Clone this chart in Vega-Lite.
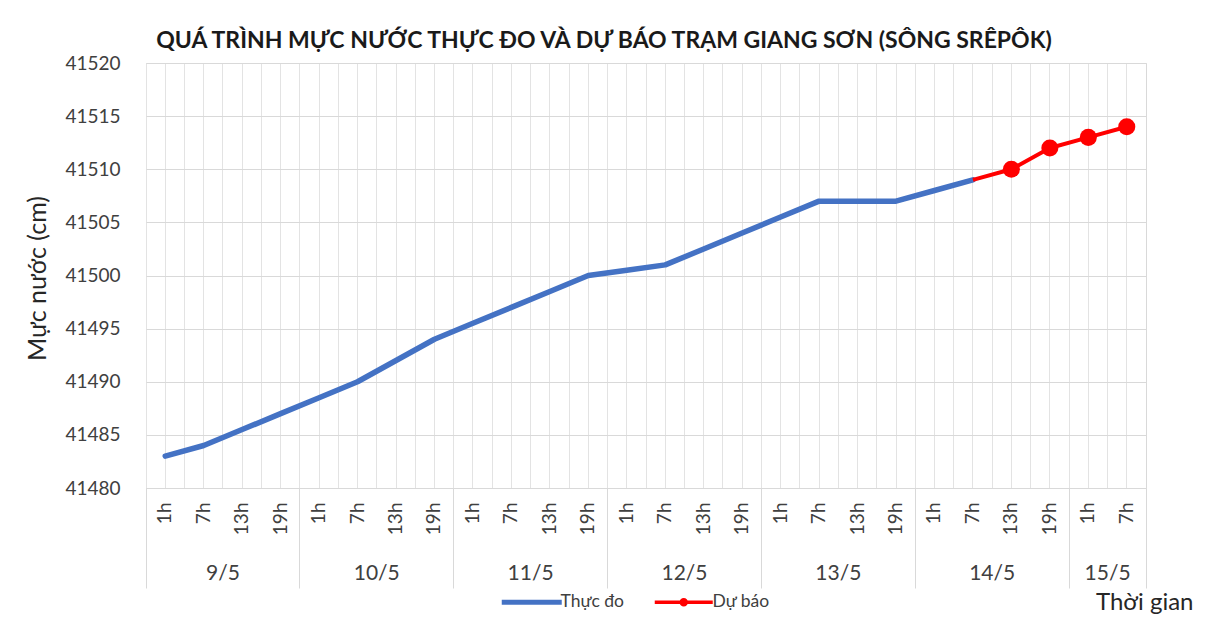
{
  "$schema": "https://vega.github.io/schema/vega-lite/v6.json",
  "autosize": {"type": "none"},
  "padding": {"left": 146, "top": 63, "right": 69, "bottom": 133},
  "width": 1000,
  "height": 425,
  "background": "white",
  "config": {
    "font": "Lato",
    "view": {"stroke": "#d9d9d9", "strokeWidth": 1},
    "axis": {"labelColor": "#404040", "titleColor": "#262626", "labelFont": "Lato", "titleFont": "Lato"}
  },
  "title": {
    "text": "QUÁ TRÌNH MỰC NƯỚC THỰC ĐO VÀ DỰ BÁO TRẠM GIANG SƠN (SÔNG SRÊPÔK)",
    "anchor": "middle",
    "dx": -42,
    "dy": 32,
    "offset": 15,
    "baseline": "alphabetic",
    "fontSize": 23,
    "fontWeight": "bold",
    "font": "Lato",
    "color": "#1a1a1a"
  },
  "data": {
    "values": [
      {"t": "9/5 1h", "value": 41483, "series": "Thực đo"},
      {"t": "9/5 7h", "value": 41484, "series": "Thực đo"},
      {"t": "9/5 13h", "value": 41485.5, "series": "Thực đo"},
      {"t": "9/5 19h", "value": 41487, "series": "Thực đo"},
      {"t": "10/5 1h", "value": 41488.5, "series": "Thực đo"},
      {"t": "10/5 7h", "value": 41490, "series": "Thực đo"},
      {"t": "10/5 13h", "value": 41492, "series": "Thực đo"},
      {"t": "10/5 19h", "value": 41494, "series": "Thực đo"},
      {"t": "11/5 1h", "value": 41495.5, "series": "Thực đo"},
      {"t": "11/5 7h", "value": 41497, "series": "Thực đo"},
      {"t": "11/5 13h", "value": 41498.5, "series": "Thực đo"},
      {"t": "11/5 19h", "value": 41500, "series": "Thực đo"},
      {"t": "12/5 1h", "value": 41500.5, "series": "Thực đo"},
      {"t": "12/5 7h", "value": 41501, "series": "Thực đo"},
      {"t": "12/5 13h", "value": 41502.5, "series": "Thực đo"},
      {"t": "12/5 19h", "value": 41504, "series": "Thực đo"},
      {"t": "13/5 1h", "value": 41505.5, "series": "Thực đo"},
      {"t": "13/5 7h", "value": 41507, "series": "Thực đo"},
      {"t": "13/5 13h", "value": 41507, "series": "Thực đo"},
      {"t": "13/5 19h", "value": 41507, "series": "Thực đo"},
      {"t": "14/5 1h", "value": 41508, "series": "Thực đo"},
      {"t": "14/5 7h", "value": 41509, "series": "Thực đo"},
      {"t": "14/5 7h", "value": 41509, "series": "Dự báo", "start": true},
      {"t": "14/5 13h", "value": 41510, "series": "Dự báo"},
      {"t": "14/5 19h", "value": 41512, "series": "Dự báo"},
      {"t": "15/5 1h", "value": 41513, "series": "Dự báo"},
      {"t": "15/5 7h", "value": 41514, "series": "Dự báo"}
    ]
  },
  "encoding": {
    "y": {
      "field": "value",
      "type": "quantitative",
      "scale": {"domain": [41480, 41520], "nice": false, "zero": false},
      "axis": {
        "title": "Mực nước (cm)",
        "titleFontSize": 25,
        "titleFontWeight": "normal",
        "titleAngle": -90,
        "titleX": -109,
        "titleY": 215,
        "titleAlign": "center",
        "titleBaseline": "middle",
        "values": [41480, 41485, 41490, 41495, 41500, 41505, 41510, 41515, 41520],
        "format": "d",
        "labelFontSize": 19,
        "labelPadding": 26,
        "ticks": false,
        "domain": false,
        "grid": true,
        "gridColor": "#d9d9d9"
      }
    }
  },
  "resolve": {"axis": {"x": "independent"}},
  "layer": [
    {
      "transform": [{"filter": "datum.series === 'Thực đo'"}],
      "mark": {"type": "line", "strokeWidth": 5.5, "strokeCap": "round", "strokeJoin": "round"},
      "encoding": {
        "x": {
          "field": "t",
          "type": "ordinal",
          "bandPosition": 0.5,
          "scale": {
            "type": "band",
            "paddingInner": 0,
            "paddingOuter": 0,
            "domain": ["9/5 1h", "9/5 7h", "9/5 13h", "9/5 19h", "10/5 1h", "10/5 7h", "10/5 13h", "10/5 19h", "11/5 1h", "11/5 7h", "11/5 13h", "11/5 19h", "12/5 1h", "12/5 7h", "12/5 13h", "12/5 19h", "13/5 1h", "13/5 7h", "13/5 13h", "13/5 19h", "14/5 1h", "14/5 7h", "14/5 13h", "14/5 19h", "15/5 1h", "15/5 7h"]
          },
          "axis": {
            "orient": "bottom",
            "labelExpr": "split(datum.value, ' ')[1]",
            "labelAngle": -90,
            "labelAlign": "right",
            "labelBaseline": "middle",
            "labelPadding": 14,
            "labelFontSize": 19,
            "ticks": false,
            "domain": true,
            "domainColor": "#d9d9d9",
            "grid": true,
            "gridColor": "#e3e3e3",
            "title": "Thời gian",
            "titleFontSize": 24,
            "titleFontWeight": "normal",
            "titleX": 1047,
            "titleY": 114,
            "titleAlign": "right",
            "titleBaseline": "middle",
            "titleAnchor": null
          }
        },
        "color": {
          "datum": "Thực đo",
          "type": "nominal",
          "scale": {"domain": ["Thực đo", "Dự báo"], "range": ["#4472C4", "#FF0000"]},
          "legend": {
            "title": null,
            "orient": "none",
            "legendX": 377,
            "legendY": 530,
            "direction": "horizontal",
            "labelFontSize": 17.5,
            "labelColor": "#404040",
            "labelFont": "Lato",
            "symbolSize": 100,
            "labelOffset": 20,
            "columnPadding": 29,
            "encode": {
              "symbols": {
                "update": {
                  "shape": {"signal": "datum.value === 'Dự báo' ? 'M-5.8,-0.35H5.8V0.35H-5.8Z M0.85,0A0.85,0.85,0,1,1,-0.85,0A0.85,0.85,0,1,1,0.85,0Z' : 'M-6,-0.5H6V0.5H-6Z'"},
                  "fill": {"signal": "datum.value === 'Dự báo' ? '#FF0000' : '#4472C4'"},
                  "stroke": {"value": "transparent"},
                  "strokeWidth": {"value": 0},
                  "opacity": {"value": 1}
                }
              }
            }
          }
        }
      }
    },
    {
      "transform": [{"filter": "datum.series === 'Dự báo'"}],
      "mark": {"type": "line", "strokeWidth": 4, "strokeJoin": "round"},
      "encoding": {
        "x": {
          "field": "t",
          "type": "ordinal",
          "bandPosition": 0.5,
          "axis": {
            "orient": "bottom",
            "bandPosition": 0,
            "labels": false,
            "ticks": false,
            "domain": false,
            "grid": true,
            "gridColor": "#e3e3e3",
            "title": null
          }
        },
        "color": {"datum": "Dự báo", "type": "nominal"}
      }
    },
    {
      "transform": [{"filter": "datum.series === 'Dự báo' && !datum.start"}],
      "mark": {"type": "point", "filled": true, "size": 290, "opacity": 1},
      "encoding": {
        "x": {
          "field": "t",
          "type": "ordinal",
          "bandPosition": 0.5,
          "axis": {
            "orient": "bottom",
            "values": ["9/5 13h", "10/5 13h", "11/5 13h", "12/5 13h", "13/5 13h", "14/5 13h", "15/5 7h"],
            "labelExpr": "split(datum.value, ' ')[0]",
            "labelAngle": 0,
            "labelAlign": "center",
            "labelBaseline": "middle",
            "labelPadding": 85,
            "labelOffset": -19.23,
            "labelFontSize": 21,
            "ticks": false,
            "domain": false,
            "grid": false,
            "title": null
          }
        },
        "color": {"datum": "Dự báo", "type": "nominal"}
      }
    },
    {
      "mark": {"type": "point", "opacity": 0},
      "encoding": {
        "x": {
          "field": "t",
          "type": "ordinal",
          "bandPosition": 0.5,
          "axis": {
            "orient": "bottom",
            "bandPosition": 0,
            "values": ["9/5 1h", "10/5 1h", "11/5 1h", "12/5 1h", "13/5 1h", "14/5 1h", "15/5 1h"],
            "labels": false,
            "ticks": true,
            "tickSize": 100,
            "tickColor": "#d9d9d9",
            "domain": false,
            "grid": false,
            "title": null
          }
        }
      }
    },
    {
      "mark": {"type": "point", "opacity": 0},
      "encoding": {
        "x": {
          "field": "t",
          "type": "ordinal",
          "bandPosition": 0.5,
          "axis": {
            "orient": "bottom",
            "bandPosition": 1,
            "values": ["15/5 7h"],
            "labels": false,
            "ticks": true,
            "tickSize": 100,
            "tickColor": "#d9d9d9",
            "domain": false,
            "grid": false,
            "title": null
          }
        }
      }
    }
  ]
}
